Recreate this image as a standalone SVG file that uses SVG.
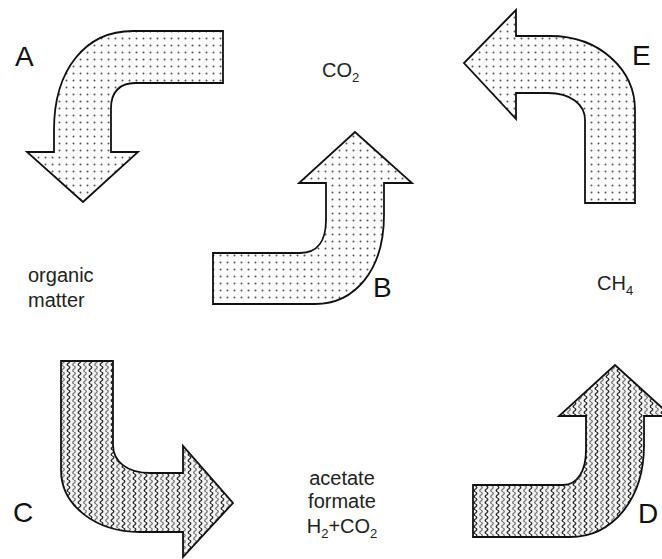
<svg xmlns="http://www.w3.org/2000/svg" width="662" height="559" viewBox="0 0 662 559">
<style>
.arrow{stroke:#111;stroke-width:1.8;stroke-linejoin:miter}
.dots{fill:url(#dots)}
.waves{fill:url(#waves)}
.letter{font-family:"Liberation Sans",Arial,sans-serif;font-size:28px;fill:#111}
.lbl{font-family:"Liberation Sans",Arial,sans-serif;font-size:20px;fill:#222}
.sub{font-size:13px}
</style>
<defs>
<pattern id="dots" patternUnits="userSpaceOnUse" width="7" height="7" x="0" y="0">
<rect width="7" height="7" fill="#fdfdfd"/>
<circle cx="3.5" cy="3.5" r="1" fill="#555"/>
</pattern>
<pattern id="waves" patternUnits="userSpaceOnUse" width="11" height="6">
<rect width="11" height="6" fill="#f2f2f2"/>
<path d="M2.5,0 Q5,1.5 2.5,3 Q0,4.5 2.5,6" fill="none" stroke="#2a2a2a" stroke-width="1.4"/>
<path d="M8,0 Q10.5,1.5 8,3 Q5.5,4.5 8,6" fill="none" stroke="#7a7a7a" stroke-width="1.4"/>
</pattern>
</defs>
<rect width="662" height="559" fill="#ffffff"/>

<g id="arrowA">
<path class="arrow dots" d="M223,31 L133,31 C85,31 54,70 54,130 L54,152 L27,152 L83,202 L138,152 L111,152 L111,108 C111,92 120,83 135,83 L223,83 Z"/>
<text class="letter" x="15" y="66">A</text>
</g>

<g id="arrowB">
<path class="arrow dots" d="M213,253 L300,253 C318,253 326,240 326,220 L326,183 L299,183 L355,132 L412,183 L384,183 L384,215 C384,270 355,304 315,304 L213,304 Z"/>
<text class="letter" x="373" y="297">B</text>
</g>

<g id="arrowE">
<path class="arrow dots" d="M516,36 L550,36 C600,36 635,70 635,110 L635,203 L585,203 L585,120 C585,104 570,93 548,93 L516,93 L516,119 L464,63 L516,10 Z"/>
<text class="letter" x="632" y="65">E</text>
</g>

<g id="arrowC">
<path class="arrow waves" d="M61,361 L113,361 L113,445 C113,462 128,473 150,473 L183,473 L183,446 L233,503 L183,557 L183,532 L140,532 C95,532 61,505 61,470 Z"/>
<text class="letter" x="13" y="522">C</text>
</g>

<g id="arrowD">
<path class="arrow waves" d="M473,485 L563,485 C578,485 586,470 586,450 L586,416 L559,416 L615,365 L671,416 L644,416 L644,445 C644,500 612,537 570,537 L473,537 Z"/>
<text class="letter" x="638" y="523">D</text>
</g>

<g id="labels">
<text class="lbl" x="322" y="77">CO<tspan class="sub" dy="5">2</tspan></text>
<text class="lbl" x="597" y="290">CH<tspan class="sub" dy="5">4</tspan></text>
<text class="lbl" x="28" y="282">organic</text>
<text class="lbl" x="28" y="307">matter</text>
<text class="lbl" x="342" y="485" text-anchor="middle">acetate</text>
<text class="lbl" x="342" y="508" text-anchor="middle">formate</text>
<text class="lbl" x="342" y="533" text-anchor="middle">H<tspan class="sub" dy="5">2</tspan><tspan dy="-5">+CO</tspan><tspan class="sub" dy="5">2</tspan></text>
</g>
</svg>
